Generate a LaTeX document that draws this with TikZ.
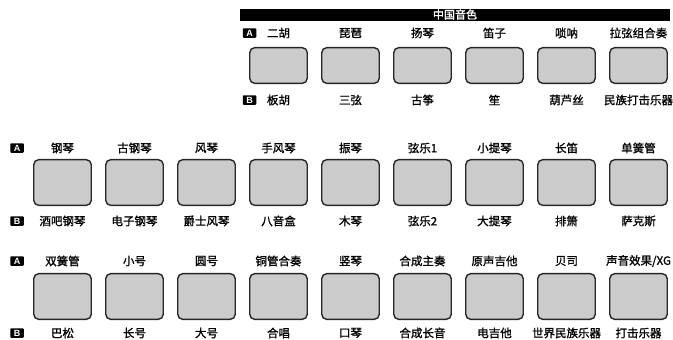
\documentclass[tikz,border=0pt]{standalone}
\usepackage{fontspec}
\newfontfamily\cjk[FakeBold=1.2]{Noto Sans CJK SC}
\newfontfamily\tagfont{Liberation Sans}
\tikzset{pad/.style = {draw=black!85, line width=1.4pt, fill=black!20,
    rounded corners=5pt, inner sep=0pt, minimum width=57.5pt, minimum height=#1},
  pad/.default = 45.7pt,
  tag/.style = {fill=black, text=white, inner sep=0pt, rounded corners=.8pt,
    minimum width=13.5pt, minimum height=9.5pt,
    font=\tagfont\bfseries\fontsize{9}{9}\selectfont},
  voice/.style = {inner sep=0pt, font=\cjk\fontsize{11.5}{11.5}\selectfont}}

\begin{document}
\begin{tikzpicture}[x=1pt, y=-1pt]
  \useasboundingbox (0,0) rectangle (673,340);
  % title bar
  \node[fill=black, text=white, inner sep=0pt, minimum width=430pt,
    minimum height=12pt, font=\cjk\fontsize{11}{11}\selectfont] (title)
    at (455,14.5) {中国音色};
  % chinese voices
  \node[tag] (a-1) at (249.5,33) {A};
  \node[tag] (b-1) at (249.5,100) {B};
  \foreach \nameA/\nameB [count=\i] in {二胡/板胡, 琵琶/三弦, 扬琴/古筝,
      笛子/笙, 唢呐/葫芦丝, 拉弦组合奏/民族打击乐器} {
    \node[pad=35.7pt] (p-1-\i) at (206.5+72*\i,65.5) {};
    \node[voice] (va-1-\i) at (206.5+72*\i,33) {\nameA};
    \node[voice] (vb-1-\i) at (206.5+72*\i,100) {\nameB};
  }
  % second row
  \node[tag] (a-2) at (17,148) {A};
  \node[tag] (b-2) at (17,221) {B};
  \foreach \nameA/\nameB [count=\i] in {钢琴/酒吧钢琴, 古钢琴/电子钢琴,
      风琴/爵士风琴, 手风琴/八音盒, 振琴/木琴, 弦乐1/弦乐2, 小提琴/大提琴,
      长笛/排箫, 单簧管/萨克斯} {
    \node[pad] (p-2-\i) at (-9.5+72*\i,182.5) {};
    \node[voice] (va-2-\i) at (-9.5+72*\i,148) {\nameA};
    \node[voice] (vb-2-\i) at (-9.5+72*\i,221) {\nameB};
  }
  % third row
  \node[tag] (a-3) at (17,261) {A};
  \node[tag] (b-3) at (17,333) {B};
  \foreach \nameA/\nameB [count=\i] in {双簧管/巴松, 小号/长号, 圆号/大号,
      铜管合奏/合唱, 竖琴/口琴, 合成主奏/合成长音, 原声吉他/电吉他,
      贝司/世界民族乐器, {声音效果/XG}/打击乐器} {
    \node[pad] (p-3-\i) at (-9.5+72*\i,296.5) {};
    \node[voice] (va-3-\i) at (-9.5+72*\i,261) {\nameA};
    \node[voice] (vb-3-\i) at (-9.5+72*\i,333) {\nameB};
  }
\end{tikzpicture}
\end{document}
